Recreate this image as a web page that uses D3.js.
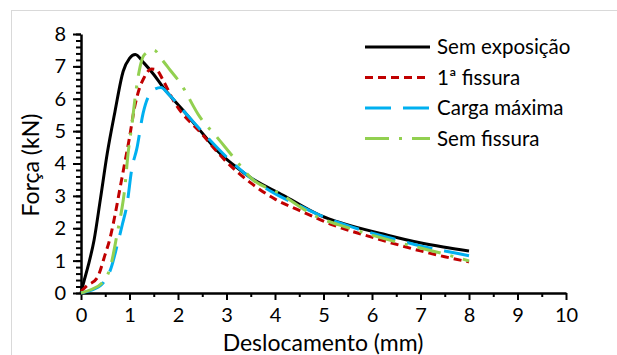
<!DOCTYPE html>
<html>
<head>
<meta charset="utf-8">
<script src="https://cdn.jsdelivr.net/npm/d3@7"></script>
<style>
  body { margin: 0; background: #fff; }
  svg { display: block; font-family: Lato, "Open Sans", sans-serif; }
</style>
</head>
<body>
<svg id="chart" width="617" height="355"></svg>
<script>
// values
var xTicks = [0, 1, 2, 3, 4, 5, 6, 7, 8, 9, 10];
var yTicks = [0, 1, 2, 3, 4, 5, 6, 7, 8];

var semExpX = [0, 0.05, 0.15, 0.27, 0.4, 0.54, 0.70, 0.87, 1.0, 1.12, 1.3, 1.5, 1.69, 2.1, 2.45, 2.8, 3.28, 3.48, 4.17, 4.93, 5.4, 6.23, 6.99, 7.47, 8.0];
var semExpY = [0, 0.3, 0.85, 1.64, 2.9, 4.3, 5.6, 6.85, 7.25, 7.37, 7.1, 6.75, 6.36, 5.65, 5.03, 4.41, 3.8, 3.58, 3.02, 2.4, 2.15, 1.82, 1.55, 1.42, 1.3];

var fissX = [0, 0.12, 0.33, 0.5, 0.6, 0.7, 0.8, 0.9, 1.0, 1.1, 1.2, 1.3, 1.45, 1.55, 1.7, 1.9, 2.5, 3.0, 3.5, 4.0, 4.5, 5.2, 6.1, 7.0, 7.5, 8.0];
var fissY = [0.05, 0.22, 0.46, 1.2, 1.7, 2.4, 3.2, 4.0, 4.8, 5.7, 6.3, 6.65, 6.92, 6.9, 6.55, 5.96, 4.9, 4.05, 3.4, 2.9, 2.55, 2.1, 1.68, 1.3, 1.12, 0.96];

var cargaX = [0, 0.2, 0.45, 0.62, 0.75, 0.85, 0.95, 1.05, 1.15, 1.28, 1.49, 1.65, 1.8, 2.1, 2.5, 3.0, 3.5, 4.0, 4.5, 5.0, 5.5, 6.0, 6.5, 7.0, 7.5, 8.0];
var cargaY = [0, 0.08, 0.3, 0.77, 1.5, 2.1, 2.75, 3.86, 4.45, 5.55, 6.27, 6.35, 6.15, 5.65, 4.98, 4.2, 3.55, 3.07, 2.7, 2.35, 2.08, 1.85, 1.65, 1.45, 1.3, 1.15];

var semFissX = [0, 0.2, 0.45, 0.6, 0.76, 0.82, 0.9, 0.97, 1.05, 1.13, 1.22, 1.3, 1.5, 1.7, 1.84, 2.04, 2.45, 2.8, 3.14, 3.55, 4.04, 4.87, 5.5, 6.52, 7.0, 7.5, 8.0];
var semFissY = [0, 0.1, 0.34, 0.77, 1.94, 2.4, 3.2, 4.3, 5.2, 6.2, 7.0, 7.35, 7.5, 7.15, 6.88, 6.5, 5.44, 4.82, 4.2, 3.49, 3.12, 2.35, 2.02, 1.57, 1.39, 1.2, 0.99];

var seriesNames = ["Sem exposição", "1ª fissura", "Carga máxima", "Sem fissura"];
var seriesX = [semExpX, fissX, cargaX, semFissX];
var seriesY = [semExpY, fissY, cargaY, semFissY];
var colors = ["#000000", "#C00000", "#00B0F0", "#92D050"];
var dashes = [null, "8,5", "26,12", "24,10,3,10"];

var svg = d3.select("#chart");

// outer frame of the chart area
svg.append("rect")
    .attr("x", 11.5).attr("y", 10.5)
    .attr("width", 640).attr("height", 400)
    .attr("fill", "none").attr("stroke", "#d9d9d9");

var margin = {left: 81, top: 34, right: 566, bottom: 293};
var x = d3.scaleLinear().domain([0, 10]).range([margin.left, margin.right]);
var y = d3.scaleLinear().domain([0, 8]).range([margin.bottom, margin.top]);

// minor ticks
svg.append("g")
    .attr("transform", "translate(0," + margin.bottom + ")")
    .call(d3.axisBottom(x).tickValues(d3.range(0.5, 10, 1)).tickSize(4).tickFormat(""))
    .call(g => g.select(".domain").remove())
    .selectAll("line").attr("stroke-width", 2);

svg.append("g")
    .attr("transform", "translate(" + margin.left + ",0)")
    .call(d3.axisLeft(y).tickValues(d3.range(0, 8.01, 0.2)).tickSize(5).tickFormat(""))
    .call(g => g.select(".domain").remove())
    .selectAll("line").attr("stroke-width", 2);

// main axes
var xAxis = svg.append("g")
    .attr("transform", "translate(0," + margin.bottom + ")")
    .call(d3.axisBottom(x).tickValues(xTicks).tickSize(7).tickSizeOuter(0).tickPadding(8));

var yAxis = svg.append("g")
    .attr("transform", "translate(" + margin.left + ",0)")
    .call(d3.axisLeft(y).tickValues(yTicks).tickSize(8).tickSizeOuter(0).tickPadding(7));

[xAxis, yAxis].forEach(function(g) {
    g.select(".domain").attr("stroke", "#000").attr("stroke-width", 2.5);
    g.selectAll(".tick line").attr("stroke", "#000").attr("stroke-width", 2);
    g.selectAll(".tick text").attr("fill", "#000").style("font-size", "20px").style("font-family", "Lato, sans-serif");
});

// series
var line = d3.line()
    .x(d => x(d[0]))
    .y(d => y(d[1]))
    .curve(d3.curveMonotoneX);

seriesNames.forEach(function(name, i) {
    var pts = seriesX[i].map((v, j) => [v, seriesY[i][j]]);
    svg.append("path")
        .datum(pts)
        .attr("fill", "none")
        .attr("stroke", colors[i])
        .attr("stroke-width", 3)
        .attr("stroke-dasharray", dashes[i])
        .attr("d", line);
});

// legend
var legend = svg.append("g").attr("transform", "translate(365,47)");
seriesNames.forEach(function(name, i) {
    var row = legend.append("g").attr("transform", "translate(0," + (i * 30.5) + ")");
    row.append("line")
        .attr("x1", 0).attr("x2", 65)
        .attr("stroke", colors[i])
        .attr("stroke-width", 3)
        .attr("stroke-dasharray", dashes[i]);
    row.append("text")
        .attr("x", 72).attr("y", 7)
        .style("font-size", "20.5px")
        .text(name);
});

// axis titles
svg.append("text")
    .attr("x", 323).attr("y", 351)
    .attr("text-anchor", "middle")
    .style("font-size", "23px")
    .text("Deslocamento (mm)");

svg.append("text")
    .attr("transform", "translate(39,165) rotate(-90)")
    .attr("text-anchor", "middle")
    .style("font-size", "23px")
    .text("Força (kN)");
</script>
</body>
</html>
